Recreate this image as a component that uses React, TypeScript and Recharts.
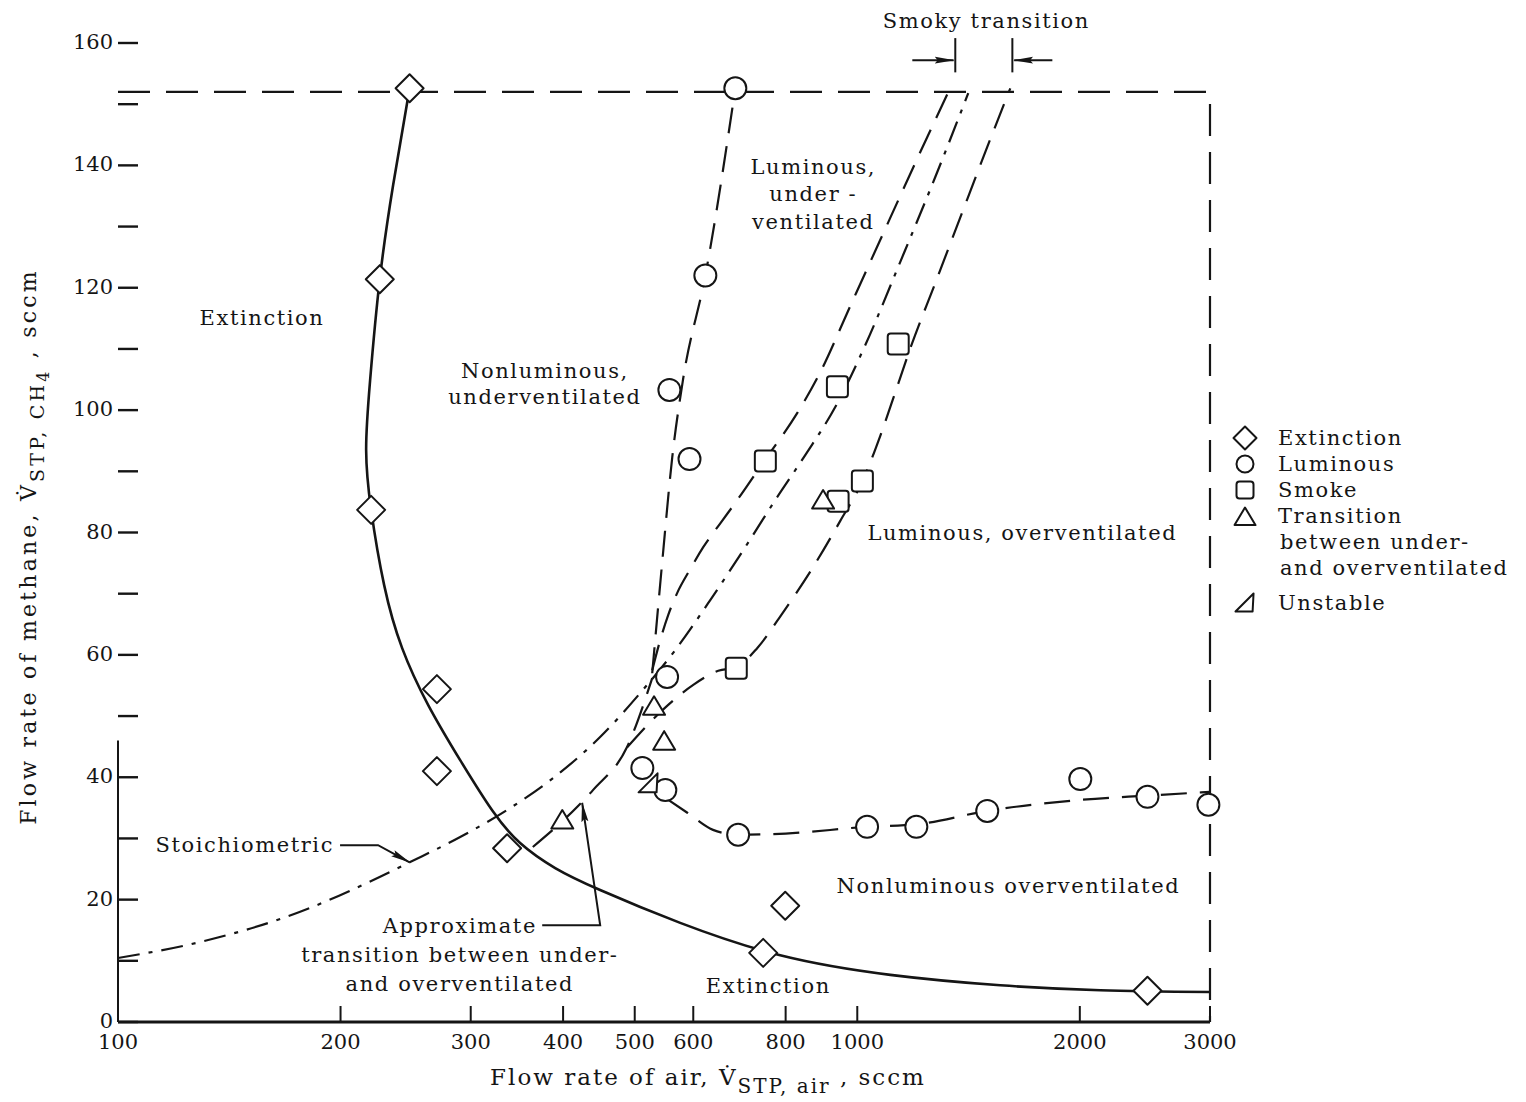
import React from 'react';
import { ComposedChart, Line, Scatter, XAxis, YAxis, ReferenceDot, ReferenceLine, Label } from 'recharts';

const INK = '#151515';
const SERIF = '"DejaVu Serif", "Liberation Serif", serif';

// measured points, [air sccm, methane sccm]
const extinction = [[248, 152.6], [226, 121.4], [220, 83.7], [270, 54.4], [270, 41], [336, 28.4], [799, 19], [746, 11.3], [2469, 5.1]];
const luminous = [[684, 152.6], [623, 122], [557, 103.3], [593, 92], [553, 56.4], [512, 41.5], [550, 37.9], [690, 30.6], [1031, 31.9], [1202, 31.9], [1499, 34.5], [2003, 39.7], [2469, 36.8], [2985, 35.5]];
const smoke = [[686, 57.8], [751, 91.7], [940, 103.8], [1136, 110.8], [1016, 88.4], [942, 85.1]];
const transition = [[399, 33], [531, 51.6], [548, 45.9], [899, 85.3]];
const unstable = [[522, 39]];

// faired curves
const extinctionCurve = [[248, 152.6], [235.6, 136.8], [226, 121.4], [219.3, 104.9], [216.6, 93.5], [220, 83.7], [229.1, 71.4], [242.3, 61.1], [262.8, 51.8], [290.3, 42.8], [320.7, 34.6], [349.9, 29.25], [390.3, 25.16], [448.9, 21.57], [576.1, 16.2], [786.6, 10.9], [1108.5, 7.7], [1561, 6.0], [2132, 5.2], [3000, 4.9]];
const luminousBoundary = [[528, 57], [545, 75.5], [562, 92.3], [581, 104.9], [623, 122], [684, 152.6]];
const smokyLeft = [[528, 57.5], [541.3, 62.4], [554.9, 66.5], [570.6, 70.1], [594.3, 74], [618.9, 77.6], [652.7, 81.5], [688.1, 85.3], [748.4, 91.7], [829.3, 99.5], [891.2, 106.2], [978.3, 117], [1074, 127.8], [1198, 140.4], [1328, 152]];
const smokyRight = [[488.4, 44.9], [546.5, 51.1], [600, 55.1], [648.6, 57.4], [686, 58], [732.1, 61.1], [794.1, 67], [872, 74.4], [948.4, 81.9], [1018.9, 88.7], [1074.3, 95.8], [1125.7, 102.9], [1179.5, 110.1], [1275.3, 120.8], [1378.4, 131.5], [1490.2, 142.2], [1610.6, 152.6]];
const stoichiometric = [[100, 10.46], [129.1, 13.07], [176, 17.97], [217, 22.71], [248.4, 26.14], [290.3, 30.23], [339.2, 34.97], [387.8, 39.87], [448.9, 46.57], [508.6, 53.76], [567.2, 60.78], [632.6, 68.95], [705.4, 77.61], [774.5, 85.29], [850.4, 92.65], [933.7, 100.5], [1025, 110.6], [1143, 124.2], [1275, 138.1], [1413, 151.8]];
const approxTransition = [[364, 28.6], [439, 37.9], [488, 44.9], [528, 56.2]];
const overventBoundary = [[552, 36.5], [589, 34.2], [638, 31.4], [690, 30.6], [800, 30.8], [1031, 31.9], [1202, 32.3], [1499, 34.5], [2003, 36.3], [2469, 37], [3000, 37.6]];
const frame = [[100, 152], [3000, 152], [3000, 0]];

// leader arrows
const stoichArrow = [[199.7, 28.9], [224.8, 28.9], [248, 26.1]];
const approxArrow = [[374.8, 15.8], [449, 15.8], [424.5, 35.8]];

const xTicks = [100, 200, 300, 400, 500, 600, 800, 1000, 2000, 3000];
const yTicks = [0, 10, 20, 30, 40, 50, 60, 70, 80, 90, 100, 110, 120, 130, 140, 150, 160];

const toXY = (pts: number[][]) => pts.map(([x, y]) => ({ x, y }));

const diamond = (cx: number, cy: number, s: number) => (
  <path d={`M${cx},${cy - s}L${cx + s},${cy}L${cx},${cy + s}L${cx - s},${cy}Z`} fill="#fff" stroke={INK} strokeWidth={2} strokeLinejoin="round" />
);
const circle = (cx: number, cy: number, r: number) => (
  <circle cx={cx} cy={cy} r={r} fill="#fff" stroke={INK} strokeWidth={2} />
);
const square = (cx: number, cy: number, s: number) => (
  <rect x={cx - s} y={cy - s} width={2 * s} height={2 * s} rx={3} fill="#fff" stroke={INK} strokeWidth={2} />
);
const triangle = (cx: number, cy: number, s: number) => (
  <path d={`M${cx},${cy - s}L${cx + s * 1.1},${cy + s * 0.85}L${cx - s * 1.1},${cy + s * 0.85}Z`} fill="#fff" stroke={INK} strokeWidth={2} strokeLinejoin="round" />
);
const skewed = (cx: number, cy: number, s: number) => (
  <path d={`M${cx - s},${cy + s * 0.9}L${cx + s * 0.8},${cy + s * 0.9}L${cx + s * 0.9},${cy - s}Z`} fill="#fff" stroke={INK} strokeWidth={2} strokeLinejoin="round" />
);

const XTick = (props: any) => {
  const { x, y, payload } = props;
  return (
    <g>
      <line x1={x} x2={x} y1={y} y2={y - 16} stroke={INK} strokeWidth={2} />
      <text x={x} y={y + 27} textAnchor="middle" fontFamily={SERIF} fontSize={21} fill={INK}>{payload.value}</text>
    </g>
  );
};

const YTick = (props: any) => {
  const { x, y, payload } = props;
  const v = payload.value;
  return (
    <g>
      <line x1={x} x2={x + 20} y1={y} y2={y} stroke={INK} strokeWidth={2.4} />
      {v % 20 === 0 && (
        <text x={x - 5} y={y + 6} textAnchor="end" fontFamily={SERIF} fontSize={21} fill={INK}>{v}</text>
      )}
    </g>
  );
};

const XTitle = (props: any) => {
  const vb = props.viewBox;
  const cx = vb.x + vb.width / 2 + 44;
  return (
    <text x={cx} y={vb.y + 63} textAnchor="middle" fontFamily={SERIF} fontSize={23} letterSpacing={2} fill={INK}>
      <tspan>Flow rate of air, V&#x307;</tspan>
      <tspan dy={8} fontSize={20}>STP, air</tspan>
      <tspan dy={-8}> , sccm</tspan>
    </text>
  );
};

const YTitle = (props: any) => {
  const vb = props.viewBox;
  const cx = vb.x + 28;
  const cy = vb.y + vb.height / 2 + 14;
  return (
    <text x={cx} y={cy} transform={`rotate(-90, ${cx}, ${cy})`} textAnchor="middle" fontFamily={SERIF} fontSize={22} letterSpacing={3.2} fill={INK}>
      <tspan>Flow rate of methane, V&#x307;</tspan>
      <tspan dy={8} fontSize={19}>STP, CH</tspan>
      <tspan dy={5} fontSize={16}>4</tspan>
      <tspan dy={-13}> , sccm</tspan>
    </text>
  );
};

function note(key: string, x: number, y: number, lines: string[], anchor: 'start' | 'middle' | 'end' = 'middle', lh = 27) {
  return (
    <ReferenceDot
      key={key}
      x={x}
      y={y}
      r={0}
      ifOverflow="visible"
      shape={(p: any) => (
        <text textAnchor={anchor} fontFamily={SERIF} fontSize={21} letterSpacing={1.6} fill={INK}>
          {lines.map((t, i) => (
            <tspan key={i} x={p.cx} y={p.cy + (i - (lines.length - 1) / 2) * lh + 7}>{t}</tspan>
          ))}
        </text>
      )}
    />
  );
}

const dashed = { stroke: INK, strokeWidth: 2.2, strokeDasharray: '26 13', fill: 'none' };

const legendRows = [
  { icon: 'diamond', lines: ['Extinction'] },
  { icon: 'circle', lines: ['Luminous'] },
  { icon: 'square', lines: ['Smoke'] },
  { icon: 'triangle', lines: ['Transition', 'between under-', 'and overventilated'] },
  { icon: 'skewed', lines: ['Unstable'] },
];

const legendIcon = (kind: string) => {
  const c = 13;
  if (kind === 'diamond') return diamond(c, c, 11.5);
  if (kind === 'circle') return circle(c, c, 8.5);
  if (kind === 'square') return square(c, c, 8.5);
  if (kind === 'triangle') return triangle(c, c + 1, 9.5);
  return skewed(c, c, 9.5);
};

export default function App() {
  return (
    <div style={{ position: 'relative', width: 1510, height: 1090, background: '#fff' }}>
      <ComposedChart width={1510} height={1090} margin={{ top: 35, right: 308, bottom: 0, left: 0 }}>
        <defs>
          <marker id="head" viewBox="0 0 20 8" refX="19" refY="4" markerWidth="20" markerHeight="8" markerUnits="userSpaceOnUse" orient="auto" preserveAspectRatio="none">
            <path d="M0,0.5 L20,4 L0,7.5 L3,4 Z" fill={INK} />
          </marker>
        </defs>
        <XAxis
          dataKey="x"
          type="number"
          scale="log"
          domain={[100, 3000]}
          ticks={xTicks}
          interval={0}
          height={76}
          tickSize={0}
          tickMargin={0}
          tick={(p: any) => <XTick {...p} />}
          axisLine={{ stroke: INK, strokeWidth: 3 }}
          tickLine={false}
        >
          <Label content={(p: any) => <XTitle {...p} />} />
        </XAxis>
        <YAxis
          dataKey="y"
          type="number"
          domain={[0, 160]}
          ticks={yTicks}
          interval={0}
          width={110}
          tickSize={0}
          tickMargin={0}
          tick={(p: any) => <YTick {...p} />}
          axisLine={false}
          tickLine={false}
        >
          <Label content={(p: any) => <YTitle {...p} />} />
        </YAxis>

        <ReferenceLine segment={[{ x: 100, y: 0 }, { x: 100, y: 46 }]} stroke={INK} strokeWidth={2} ifOverflow="visible" />

        <Line data={toXY(frame)} dataKey="y" type="linear" {...dashed} strokeDasharray="32 16" dot={false} activeDot={false} isAnimationActive={false} />
        <Line data={toXY(extinctionCurve)} dataKey="y" type="natural" stroke={INK} strokeWidth={2.6} dot={false} activeDot={false} isAnimationActive={false} />
        <Line data={toXY(luminousBoundary)} dataKey="y" type="monotone" {...dashed} dot={false} activeDot={false} isAnimationActive={false} />
        <Line data={toXY(smokyLeft)} dataKey="y" type="monotone" {...dashed} dot={false} activeDot={false} isAnimationActive={false} />
        <Line data={toXY(smokyRight)} dataKey="y" type="monotone" {...dashed} dot={false} activeDot={false} isAnimationActive={false} />
        <Line data={toXY(stoichiometric)} dataKey="y" type="monotone" stroke={INK} strokeWidth={2.2} strokeDasharray="22 9 4 9" dot={false} activeDot={false} isAnimationActive={false} />
        <Line data={toXY(approxTransition)} dataKey="y" type="monotone" {...dashed} dot={false} activeDot={false} isAnimationActive={false} />
        <Line data={toXY(overventBoundary)} dataKey="y" type="monotone" {...dashed} dot={false} activeDot={false} isAnimationActive={false} />
        <Line data={toXY(stoichArrow)} dataKey="y" type="linear" stroke={INK} strokeWidth={2} markerEnd="url(#head)" dot={false} activeDot={false} isAnimationActive={false} />
        <Line data={toXY(approxArrow)} dataKey="y" type="linear" stroke={INK} strokeWidth={2} markerEnd="url(#head)" dot={false} activeDot={false} isAnimationActive={false} />

        <ReferenceLine segment={[{ x: 1357, y: 155.2 }, { x: 1357, y: 160.8 }]} stroke={INK} strokeWidth={2} ifOverflow="visible" />
        <ReferenceLine segment={[{ x: 1621, y: 155.2 }, { x: 1621, y: 160.8 }]} stroke={INK} strokeWidth={2} ifOverflow="visible" />
        <ReferenceLine segment={[{ x: 1187, y: 157.2 }, { x: 1350, y: 157.2 }]} stroke={INK} strokeWidth={2} markerEnd="url(#head)" ifOverflow="visible" />
        <ReferenceLine segment={[{ x: 1836, y: 157.2 }, { x: 1630, y: 157.2 }]} stroke={INK} strokeWidth={2} markerEnd="url(#head)" ifOverflow="visible" />

        <Scatter data={toXY(extinction)} dataKey="y" shape={(p: any) => diamond(p.cx, p.cy, 14)} isAnimationActive={false} />
        <Scatter data={toXY(luminous)} dataKey="y" shape={(p: any) => circle(p.cx, p.cy, 11)} isAnimationActive={false} />
        <Scatter data={toXY(smoke)} dataKey="y" shape={(p: any) => square(p.cx, p.cy, 10.5)} isAnimationActive={false} />
        <Scatter data={toXY(transition)} dataKey="y" shape={(p: any) => triangle(p.cx, p.cy, 10)} isAnimationActive={false} />
        <Scatter data={toXY(unstable)} dataKey="y" shape={(p: any) => skewed(p.cx, p.cy, 10)} isAnimationActive={false} />

        {note('ext1', 156.6, 115, ['Extinction'])}
        {note('lumUnder', 872, 135.3, ['Luminous,', 'under -', 'ventilated'], 'middle', 27.5)}
        {note('nonlumUnder', 378, 104.2, ['Nonluminous,', 'underventilated'], 'middle', 26)}
        {note('lumOver', 1672, 79.9, ['Luminous, overventilated'])}
        {note('nonlumOver', 1601, 22.2, ['Nonluminous overventilated'])}
        {note('ext2', 758, 5.9, ['Extinction'])}
        {note('stoich', 196, 28.9, ['Stoichiometric'], 'end')}
        {note('approx', 290, 10.9, ['Approximate', 'transition between under-', 'and overventilated'], 'middle', 29)}
        {note('smoky', 1495, 163.6, ['Smoky  transition'])}
      </ComposedChart>

      <div style={{ position: 'absolute', left: 1224, top: 417, fontFamily: SERIF, fontSize: 21, letterSpacing: 1.6, color: INK, lineHeight: '26px' }}>
        {legendRows.map((row, i) => (
          <div key={i} style={{ display: 'flex', alignItems: 'flex-start', marginTop: row.icon === 'skewed' ? 9 : 0 }}>
            <svg width={26} height={26} style={{ flex: 'none' }}>{legendIcon(row.icon)}</svg>
            <div style={{ marginLeft: 20, whiteSpace: 'nowrap' }}>
              {row.lines.map((t, j) => (
                <div key={j} style={{ marginLeft: j > 0 ? 2 : 0 }}>{t}</div>
              ))}
            </div>
          </div>
        ))}
      </div>
    </div>
  );
}
